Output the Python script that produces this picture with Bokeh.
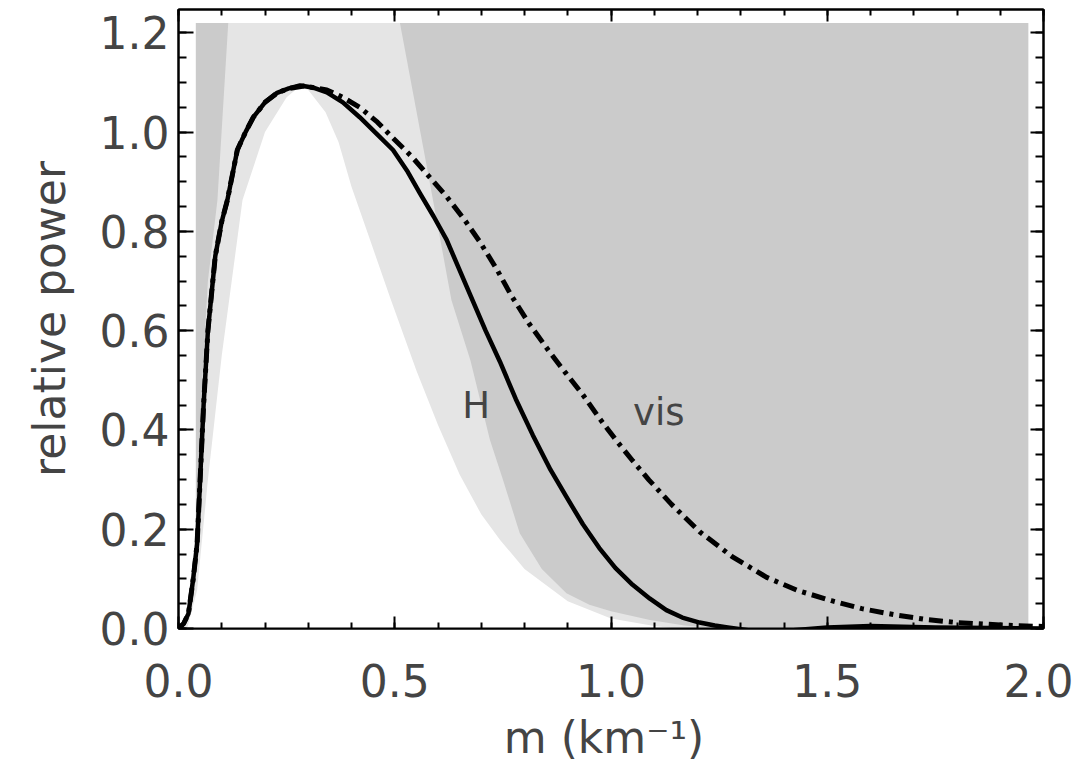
from bokeh.plotting import figure
from bokeh.models import (Range1d, LinearAxis, SingleIntervalTicker, PrintfTickFormatter,
                          CustomJSTickFormatter)
from bokeh.core.properties import value
from bokeh.embed import file_html
from bokeh.resources import INLINE

# ---- data ----
rise_m = [0.0, 0.012, 0.023, 0.034, 0.043, 0.05, 0.058, 0.068, 0.085, 0.1, 0.113, 0.136,
          0.155, 0.173, 0.2, 0.228, 0.255]
rise_p = [0.0, 0.01, 0.03, 0.1, 0.17, 0.3, 0.45, 0.6, 0.75, 0.82, 0.863, 0.964,
          1.0, 1.03, 1.06, 1.079, 1.088]

# solid curve "H"
h_m = rise_m + [0.281, 0.31, 0.343, 0.38, 0.419, 0.46, 0.496, 0.53, 0.558, 0.59, 0.62, 0.645,
                0.673, 0.71, 0.743, 0.78, 0.819, 0.86, 0.897, 0.935, 0.973, 1.01, 1.05, 1.09,
                1.128, 1.165, 1.205, 1.24, 1.27, 1.33, 1.4, 1.5, 1.6, 1.75, 2.0]
h_p = rise_p + [1.094, 1.09, 1.08, 1.06, 1.03, 0.995, 0.964, 0.92, 0.877, 0.83, 0.783, 0.732,
                0.675, 0.6, 0.538, 0.462, 0.39, 0.32, 0.265, 0.21, 0.162, 0.122, 0.088, 0.06,
                0.037, 0.022, 0.012, 0.006, 0.002, -0.005, -0.005, 0.002, 0.005, 0.002, 0.0]

# dash-dot curve "vis"
v_m = rise_m + [0.29, 0.343, 0.38, 0.419, 0.46, 0.496, 0.54, 0.58, 0.62, 0.66, 0.696, 0.735,
                0.77, 0.81, 0.858, 0.895, 0.934, 0.972, 1.012, 1.05, 1.088, 1.14, 1.205, 1.28,
                1.36, 1.43, 1.51, 1.58, 1.66, 1.73, 1.8, 1.9, 2.0]
v_p = rise_p + [1.093, 1.085, 1.07, 1.05, 1.02, 0.988, 0.95, 0.91, 0.87, 0.825, 0.78, 0.725,
                0.67, 0.615, 0.557, 0.515, 0.472, 0.425, 0.379, 0.338, 0.299, 0.25, 0.195, 0.145,
                0.103, 0.077, 0.056, 0.04, 0.027, 0.018, 0.012, 0.007, 0.004]

# dark grey block
dark_left = [0.04]
dark_right = [1.965]
dark_top = [1.22]
dark_bottom = [0.0]

# light grey envelope (left edge bottom->top, right edge top->bottom)
g_left_m = [0.015, 0.035, 0.045, 0.055, 0.068, 0.09, 0.115]
g_left_p = [0.0, 0.15, 0.3, 0.5, 0.7, 0.863, 1.22]
g_right_m = [0.512, 0.57, 0.631, 0.675, 0.72, 0.75, 0.789, 0.84, 0.897, 0.95, 1.0, 1.09, 1.17, 1.25]
g_right_p = [1.22, 0.95, 0.662, 0.54, 0.38, 0.3, 0.192, 0.12, 0.071, 0.048, 0.035, 0.017, 0.006, 0.0]

# white inner region
w_left_m = [0.02, 0.043, 0.068, 0.1, 0.148, 0.2, 0.25, 0.28]
w_left_p = [0.0, 0.077, 0.3, 0.55, 0.863, 1.0, 1.07, 1.092]
w_right_m = [0.30, 0.34, 0.37, 0.40, 0.44, 0.49, 0.55, 0.60, 0.65, 0.70, 0.744, 0.80, 0.90, 1.0, 1.1, 1.15]
w_right_p = [1.085, 1.04, 0.98, 0.89, 0.79, 0.665, 0.52, 0.41, 0.31, 0.23, 0.178, 0.12, 0.055, 0.02, 0.005, 0.0]

# curve labels
lab_m = [0.656, 1.051]
lab_p = [0.45, 0.436]
lab_text = ["H", "vis"]

FONT = "DejaVu Sans"
TXT = "#444444"

p = figure(x_range=Range1d(0, 2.0), y_range=Range1d(0, 1.247),
           frame_width=865, frame_height=619,
           min_border_left=178, min_border_right=30, min_border_top=9, min_border_bottom=5,
           output_backend="svg", toolbar_location=None)
p.xgrid.visible = False
p.ygrid.visible = False
p.outline_line_color = "black"
p.outline_line_width = 2
p.background_fill_color = "white"
p.border_fill_color = "white"

p.quad(left=dark_left, right=dark_right, top=dark_top, bottom=dark_bottom,
       fill_color="#cbcbcb", line_color=None)
p.patch(g_left_m + g_right_m, g_left_p + g_right_p, fill_color="#e5e5e5", line_color=None)
p.patch(w_left_m + w_right_m, w_left_p + w_right_p, fill_color="white", line_color=None)

p.line(v_m, v_p, line_color="black", line_width=5, line_dash="14 6 4 6", line_join="round")
p.line(h_m, h_p, line_color="black", line_width=4.5, line_join="round")

p.text(x=lab_m, y=lab_p, text=lab_text, text_font=value(FONT), text_font_size="37px",
       text_color=TXT, text_align="left", text_baseline="alphabetic")


def style(ax, interval, nminor, major_in, minor_in, labels):
    ax.ticker = SingleIntervalTicker(interval=interval, num_minor_ticks=nminor)
    ax.major_tick_in = major_in
    ax.major_tick_out = 0
    ax.minor_tick_in = minor_in
    ax.minor_tick_out = 0
    ax.axis_line_color = "black"
    ax.axis_line_width = 2
    ax.major_tick_line_color = "black"
    ax.major_tick_line_width = 2
    ax.minor_tick_line_color = "black"
    ax.minor_tick_line_width = 2
    if labels:
        ax.formatter = PrintfTickFormatter(format="%.1f")
        ax.major_label_text_font = FONT
        ax.major_label_text_font_size = "44px"
        ax.major_label_text_color = TXT
        ax.axis_label_text_font = FONT
        ax.axis_label_text_font_size = "44px"
        ax.axis_label_text_font_style = "normal"
        ax.axis_label_text_color = TXT
    else:
        ax.formatter = CustomJSTickFormatter(code="return ''")
        ax.major_label_text_font_size = "1px"
        ax.major_label_standoff = 0


xa = p.xaxis[0]
ya = p.yaxis[0]
style(xa, 0.5, 5, 12, 6, True)
style(ya, 0.2, 4, 15, 8, True)
xa.major_label_standoff = 35
xa.axis_label = "m  (km\u207b\u00b9)"
xa.axis_label_standoff = 12
ya.major_label_standoff = 9
ya.axis_label = "relative power"
ya.axis_label_standoff = 22

top = LinearAxis()
style(top, 0.5, 5, 12, 6, False)
p.add_layout(top, "above")
right = LinearAxis()
style(right, 0.2, 4, 13, 8, False)
p.add_layout(right, "right")

open("out.html", "w").write(file_html(p, INLINE))
